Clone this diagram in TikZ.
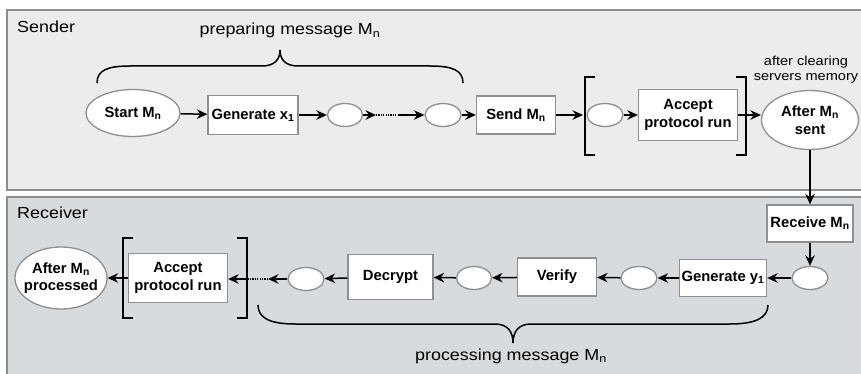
\documentclass[tikz,border=0pt]{standalone}
\usepackage{fontspec}
\setmainfont{Liberation Sans}
\newfontfamily\regfont[FakeStretch=1.12]{Liberation Sans}
\usetikzlibrary{arrows.meta,shapes.geometric}
\definecolor{sendfill}{HTML}{ECECEC}
\definecolor{recfill}{HTML}{D8DBDE}
\definecolor{laneline}{HTML}{8C8C8C}
\definecolor{boxline}{HTML}{8F8F8F}
\tikzset{
  lbl/.style={font=\bfseries\fontsize{14.8}{17.5}\selectfont, text=black},
  box/.style={draw=boxline, fill=white, line width=1.3pt, inner sep=0pt, align=center, lbl},
  oval/.style={ellipse, draw=boxline, fill=white, line width=1.3pt, inner sep=0pt, align=center, lbl},
  bigoval/.style={oval, inner sep=-5pt},
  arr/.style={-{Stealth[length=10.5pt,width=9.5pt,inset=3.5pt]}, line width=1.5pt, black},
  dots/.style={line width=1.5pt, black, dash pattern=on 1.2pt off 1.2pt},
  brk/.style={line width=2.8pt, black},
  brc/.style={line width=1.5pt, black},
  lanebox/.style={draw=laneline, line width=1.3pt},
  reg/.style={font=\regfont\fontsize{16}{19}\selectfont, text=black, inner sep=0pt},
  small/.style={font=\regfont\fontsize{13}{15}\selectfont, text=black, inner sep=0pt}
}
\begin{document}
\begin{tikzpicture}[x=1pt,y=-1pt]
\clip (0,0) rectangle (861,374);
\fill[white] (0,0) rectangle (861,374);
% lanes
\draw[lanebox, fill=sendfill] (7,10) rectangle (880,190);
\draw[lanebox, fill=recfill] (7,197) rectangle (880,390);
\node[reg, anchor=base west] (sender) at (17,33) {Sender};
\node[reg, anchor=base west] (receiver) at (17,218) {Receiver};

% sender row
\node[oval, minimum width=94pt, minimum height=47pt] (start) at (133,113) {Start M\textsubscript{n}};
\node[box, minimum width=90pt, minimum height=39pt] (gen) at (253,115) {Generate x\textsubscript{1}};
\node[oval, minimum width=35pt, minimum height=23pt] (e1) at (345,115) {};
\coordinate (d1) at (376,115);
\coordinate (d2) at (398,115);
\node[oval, minimum width=36pt, minimum height=23pt] (e2) at (443,115) {};
\node[box, minimum width=79pt, minimum height=38pt] (send) at (516,115) {Send M\textsubscript{n}};
\coordinate (lb1) at (583,115);
\node[oval, minimum width=36pt, minimum height=23pt] (e3) at (605,115) {};
\node[box, minimum width=99pt, minimum height=51pt] (acc1) at (688,115) {Accept\\protocol run};
\node[oval, minimum width=97pt, minimum height=59pt] (sent) at (810,120) {After M\textsubscript{n}\\sent};
\node[small, anchor=base] (note1) at (806,66) {after clearing};
\node[small, anchor=base] (note2) at (806,81) {servers memory};

\draw[brk] (595,77) -- (585,77) -- (585,155) -- (595,155);
\draw[brk] (736,77) -- (746,77) -- (746,155) -- (736,155);

\draw[arr] (start) -- (gen);
\draw[arr] (gen) -- (e1);
\draw[arr] (e1) -- (d1);
\draw[dots] (d1) -- (d2);
\draw[arr] (d2) -- (e2);
\draw[arr] (e2) -- (send);
\draw[arr] (send) -- (lb1);
\draw[arr] (e3) -- (acc1);
\draw[arr] (acc1.east) -- (acc1.east -| sent.west);

% top brace
\draw[brc] (97,83) .. controls (97,70) and (108,66) .. (130,66) -- (262,66)
  .. controls (274,66) and (280,60) .. (280,50)
  .. controls (280,60) and (286,66) .. (298,66) -- (430,66)
  .. controls (452,66) and (463,70) .. (463,83);
\node[reg, anchor=base] (prep) at (290,35) {preparing message M\textsubscript{n}};

% receiver
\node[box, minimum width=86pt, minimum height=37pt] (recv) at (810,223.5) {Receive M\textsubscript{n}};
\node[oval, minimum width=36pt, minimum height=23pt] (e4) at (810,278) {};
\node[box, minimum width=87pt, minimum height=37pt] (geny) at (723,278) {Generate y\textsubscript{1}};
\node[oval, minimum width=36pt, minimum height=23pt] (e5) at (639,278) {};
\node[box, minimum width=79pt, minimum height=38pt] (ver) at (557,277) {Verify};
\node[oval, minimum width=35pt, minimum height=23pt] (e6) at (474,278) {};
\node[box, minimum width=85pt, minimum height=45pt] (dec) at (390.5,277) {Decrypt};
\node[oval, minimum width=36pt, minimum height=23pt] (e7) at (306,279) {};
\coordinate (d3) at (268,279);
\coordinate (rb2) at (247,279);
\node[box, minimum width=99pt, minimum height=49pt] (acc2) at (178,278) {Accept\\protocol run};
\node[bigoval, minimum width=92pt, minimum height=62pt] (proc) at (61,278) {After M\textsubscript{n}\\processed};

\draw[brk] (133,238) -- (123,238) -- (123,318) -- (133,318);
\draw[brk] (237,238) -- (247,238) -- (247,318) -- (237,318);

\draw[arr] (sent) -- (recv);
\draw[arr] (recv) -- (e4);
\draw[arr] (e4) -- (geny);
\draw[arr] (geny) -- (e5);
\draw[arr] (e5) -- (ver);
\draw[arr] (ver) -- (e6);
\draw[arr] (e6) -- (dec);
\draw[arr] (dec) -- (e7);
\draw[arr] (e7) -- (d3);
\draw[dots] (d3) -- (rb2);
\draw[arr] (rb2) -- (acc2.east |- rb2);
\draw[arr] (acc2) -- (proc);

% bottom brace
\draw[brc] (258,305) .. controls (258,318) and (270,324) .. (295,324) -- (495,324)
  .. controls (507,324) and (513,331) .. (513,343)
  .. controls (513,331) and (519,324) .. (531,324) -- (730,324)
  .. controls (755,324) and (768,318) .. (768,305);
\node[reg, anchor=base] (procmsg) at (511,360) {processing message M\textsubscript{n}};
\end{tikzpicture}
\end{document}
